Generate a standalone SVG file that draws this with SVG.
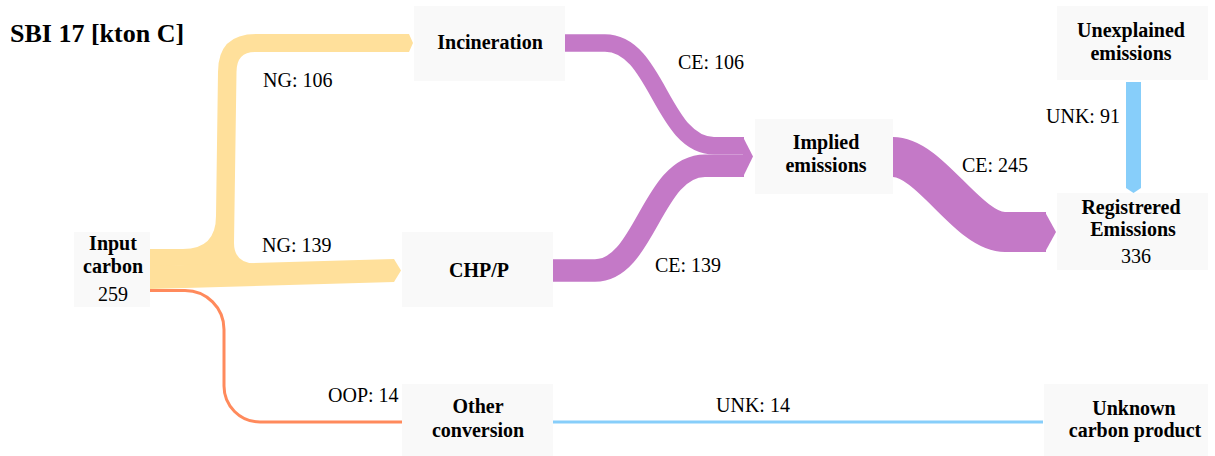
<svg xmlns="http://www.w3.org/2000/svg" width="1215" height="456" viewBox="0 0 1215 456">
  <style>
    .box { fill: #f9f9f9; }
    text { font-family: "Liberation Serif", "DejaVu Serif", serif; fill: #000; }
    .title { font-size: 26px; font-weight: bold; }
    .lbl { font-size: 20px; font-weight: bold; text-anchor: middle; }
    .val { font-size: 20px; text-anchor: middle; }
    .elbl { font-size: 20px; }
    .ng { fill: #ffe09b; }
    .ce { fill: none; stroke: #c479c7; }
    .ceHead { fill: #c479c7; }
    .oop { fill: none; stroke: #ff8a5c; stroke-width: 3; }
    .unk { fill: #87cefa; }
    .unkLine { fill: none; stroke: #87cefa; stroke-width: 3; }
  </style>

  <rect width="1215" height="456" fill="#ffffff"/>

  <text class="title" x="10" y="42">SBI 17 [kton C]</text>

  <!-- flows -->
  <g id="connectors">
    <!-- NG 106: Input carbon -> Incineration -->
    <path class="ng" d="M150,249 H183 Q216,249 216,216 L218,72 Q218,34 256,34 H409 L413,43 L409,52 H255 Q236.5,52 236.5,72 L234,243 Q234,264 258,264 L150,266.5 Z"/>
    <!-- NG 139: Input carbon -> CHP/P -->
    <path class="ng" d="M150,266 L394,259 L401,270.5 L394,282 L150,289 Z"/>
    <!-- OOP 14: Input carbon -> Other conversion -->
    <path class="oop" d="M150,290.5 H185 A39,39 0 0 1 224,329.5 V386 A36,36 0 0 0 260,422 H402"/>

    <!-- CE 106: Incineration -> Implied emissions -->
    <path class="ce" stroke-width="17.4" d="M565,43 H605 C657,43 662,145.7 714,145.7 H744"/>
    <!-- CE 139: CHP/P -> Implied emissions -->
    <path class="ce" stroke-width="22.6" d="M553,270.5 H595 C645,270.5 652,165.7 705,165.7 H744"/>
    <polygon class="ceHead" points="743,137 753,156.5 743,177"/>

    <!-- CE 245: Implied emissions -> Registrered Emissions -->
    <path class="ce" stroke-width="40" d="M893,157 C930,157 968,232 1005,232 H1046"/>
    <polygon class="ceHead" points="1045,212 1056,232 1045,252"/>

    <!-- UNK 91: Unexplained emissions -> Registrered Emissions -->
    <polygon class="unk" points="1126,82 1141,82 1141,188 1133.5,193 1126,188"/>

    <!-- UNK 14: Other conversion -> Unknown carbon product -->
    <path class="unkLine" d="M553,422 H1043"/>

    <!-- flow labels -->
    <text class="elbl" x="263" y="87">NG: 106</text>
    <text class="elbl" x="262" y="252">NG: 139</text>
    <text class="elbl" x="328" y="402">OOP: 14</text>
    <text class="elbl" x="678" y="69">CE: 106</text>
    <text class="elbl" x="655" y="272">CE: 139</text>
    <text class="elbl" x="962" y="172">CE: 245</text>
    <text class="elbl" x="1046" y="123">UNK: 91</text>
    <text class="elbl" x="716" y="412">UNK: 14</text>
  </g>

  <!-- nodes -->
  <g id="input-carbon">
    <rect class="box" x="74" y="232" width="76" height="75"/>
    <text class="lbl" x="113" y="250">Input</text>
    <text class="lbl" x="113" y="273">carbon</text>
    <text class="val" x="113" y="301">259</text>
  </g>

  <g id="incineration">
    <rect class="box" x="414" y="6" width="151" height="75"/>
    <text class="lbl" x="490" y="49">Incineration</text>
  </g>

  <g id="chp-p">
    <rect class="box" x="402" y="232" width="151" height="75"/>
    <text class="lbl" x="479" y="277">CHP/P</text>
  </g>

  <g id="other-conversion">
    <rect class="box" x="402" y="384" width="151" height="72"/>
    <text class="lbl" x="478" y="413">Other</text>
    <text class="lbl" x="478" y="437">conversion</text>
  </g>

  <g id="implied-emissions">
    <rect class="box" x="755" y="119" width="138" height="75"/>
    <text class="lbl" x="826" y="149">Implied</text>
    <text class="lbl" x="826" y="172">emissions</text>
  </g>

  <g id="unexplained-emissions">
    <rect class="box" x="1057" y="6" width="151" height="74"/>
    <text class="lbl" x="1131" y="37">Unexplained</text>
    <text class="lbl" x="1131" y="60">emissions</text>
  </g>

  <g id="registrered-emissions">
    <rect class="box" x="1057" y="193" width="151" height="77"/>
    <text class="lbl" x="1131" y="214">Registrered</text>
    <text class="lbl" x="1133" y="236">Emissions</text>
    <text class="val" x="1136" y="263">336</text>
  </g>

  <g id="unknown-carbon-product">
    <rect class="box" x="1044" y="384" width="164" height="72"/>
    <text class="lbl" x="1134" y="415">Unknown</text>
    <text class="lbl" x="1135" y="437">carbon product</text>
  </g>
</svg>
